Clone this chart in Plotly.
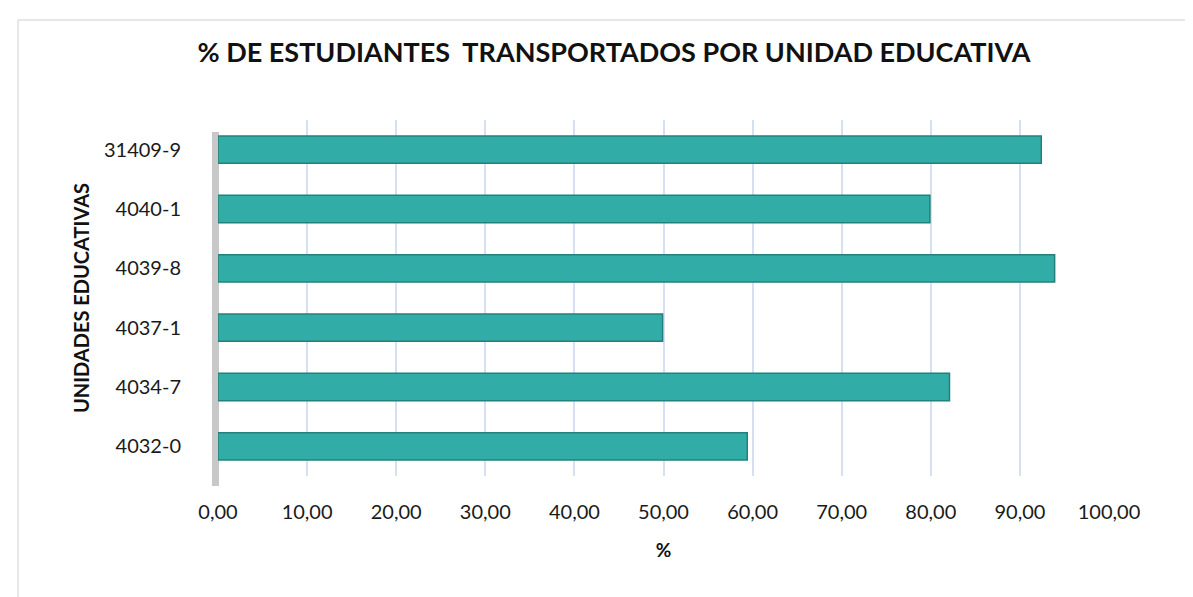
import plotly.graph_objects as go

categories = ["4032-0", "4034-7", "4037-1", "4039-8", "4040-1", "31409-9"]
values = [59.4, 82.1, 49.9, 93.9, 79.9, 92.4]
tick_vals = [0, 10, 20, 30, 40, 50, 60, 70, 80, 90, 100]
tick_text = ["0,00", "10,00", "20,00", "30,00", "40,00", "50,00", "60,00", "70,00", "80,00", "90,00", "100,00"]

W, H = 1193, 597
L, R, T, B = 210, 92, 112, 129
pw, ph = W - L - R, H - T - B

def px(x):
    return (x - L) / pw

def py(y):
    return (H - B - y) / ph

FONT = "Lato, 'Open Sans', sans-serif"

fig = go.Figure()
fig.add_trace(go.Bar(
    y=categories, x=values, orientation="h",
    marker=dict(color="#31aca7", line=dict(color="#24807c", width=1.5)),
    width=0.46,
    hoverinfo="x+y",
))

shapes = [
    dict(type="rect", xref="paper", yref="paper",
         x0=px(10), x1=px(1190), y0=py(596), y1=py(12),
         line=dict(color="#d0d0d0", width=1), fillcolor="rgba(0,0,0,0)", layer="below"),
    dict(type="rect", xref="paper", yref="paper",
         x0=px(204), x1=px(211), y0=py(478), y1=py(124),
         line=dict(width=0), fillcolor="#c8c8c8", layer="below"),
]

fig.update_layout(
    width=W, height=H,
    margin=dict(l=L, r=R, t=T, b=B),
    paper_bgcolor="white", plot_bgcolor="white",
    showlegend=False,
    title=dict(text="<b>% DE ESTUDIANTES  TRANSPORTADOS POR UNIDAD EDUCATIVA</b>",
               x=px(606), xanchor="center", xref="paper", y=1 - 45 / H, yanchor="middle",
               font=dict(family=FONT, size=27, color="#111111")),
    xaxis=dict(range=[0, 100], tickvals=tick_vals, ticktext=tick_text,
               showgrid=True, gridcolor="#d6e0f2", gridwidth=1.5,
               zeroline=False, showline=False, ticks="",
               ticklabelstandoff=22,
               tickfont=dict(family=FONT, size=20, color="#1a1a1a"),
               title=dict(text="<b>%</b>", standoff=21,
                          font=dict(family=FONT, size=19, color="#111111"))),
    yaxis=dict(type="category", categoryorder="array", categoryarray=categories,
               showgrid=False, zeroline=False, showline=False, ticks="",
               ticklabelstandoff=36,
               tickfont=dict(family=FONT, size=20, color="#1a1a1a"),
               title=dict(text="<b>UNIDADES EDUCATIVAS</b>", standoff=8,
                          font=dict(family=FONT, size=20, color="#111111"))),
    shapes=shapes,
)

fig.write_html("out.html")
